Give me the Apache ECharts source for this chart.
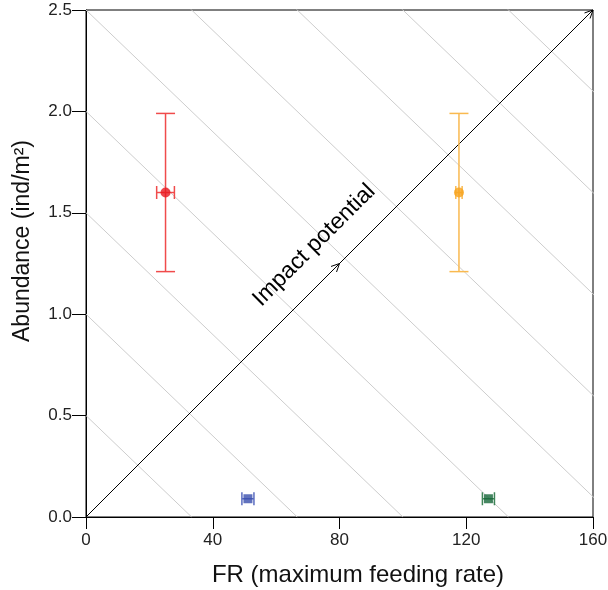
<!DOCTYPE html>
<html><head><meta charset="utf-8">
<script src="https://cdn.jsdelivr.net/npm/echarts@6/dist/echarts.min.js"></script>
<style>html,body{margin:0;padding:0;background:#fff}#c{width:608px;height:590px}</style>
</head><body><div id="c"></div>
<script>
const frMean = [25.1, 117.7, 51.1, 127.0];
const frErr = [2.8, 1.0, 1.9, 1.9];
const abMean = [1.60, 1.60, 0.09, 0.09];
const abErr = [0.39, 0.39, 0, 0];
const dotColors = ['#e8181f', '#f7a31c', '#3a4fae', '#17683a'];
const barColors = ['#f04b4b', '#f9b94f', '#5a6cc0', '#3f8558'];
const markerShapes = ['circle', 'circle', 'square', 'square'];
const xTicks = [0, 40, 80, 120, 160];
const yTicks = [0.0, 0.5, 1.0, 1.5, 2.0, 2.5];
const isoIntercepts = [0.5, 1.0, 1.5, 2.0, 2.5, 3.0, 3.5, 4.0, 4.5];
const isoSlope = -0.015;
const diagLine = [[0, 0], [160, 2.5]];
const arrowAt = [[80, 1.25], [160, 2.5]];
const annotation = {text: 'Impact potential', x: 72.0, y: 1.34};

const FONT = '"Liberation Sans", Arial, sans-serif';
const chart = echarts.init(document.getElementById('c'), null, {renderer: 'canvas'});

const series = [];
isoIntercepts.forEach(c => {
  series.push({
    type: 'line', silent: true, symbol: 'none', clip: true, z: 1,
    lineStyle: {color: '#cdcdcd', width: 1},
    data: [[0, c], [c / -isoSlope, 0]]
  });
});
series.push({
  type: 'line', silent: true, symbol: 'none', z: 2,
  lineStyle: {color: '#000', width: 1},
  data: diagLine
});
series.push({
  type: 'custom', silent: true, z: 3, clip: false,
  data: arrowAt,
  renderItem: function (params, api) {
    const p = api.coord([api.value(0), api.value(1)]);
    const a = api.coord(diagLine[0]), b = api.coord(diagLine[1]);
    const ang = Math.atan2(b[1] - a[1], b[0] - a[0]);
    const L = 9, s = 0.45;
    const p1 = [p[0] - L * Math.cos(ang - s), p[1] - L * Math.sin(ang - s)];
    const p2 = [p[0] - L * Math.cos(ang + s), p[1] - L * Math.sin(ang + s)];
    return {type: 'polyline', shape: {points: [p1, p, p2]}, style: {stroke: '#000', lineWidth: 1, fill: null}};
  }
});
series.push({
  type: 'custom', silent: true, z: 3, clip: false,
  data: [[annotation.x, annotation.y]],
  renderItem: function (params, api) {
    const p = api.coord([api.value(0), api.value(1)]);
    return {type: 'text', x: p[0], y: p[1], rotation: Math.PI / 4,
      style: {text: annotation.text, fontSize: 23, fontFamily: FONT, fill: '#000', align: 'center', verticalAlign: 'middle'}};
  }
});
// error bars
series.push({
  type: 'custom', silent: true, z: 4, clip: false,
  data: frMean.map((x, i) => [x, abMean[i], frErr[i], abErr[i], i]),
  renderItem: function (params, api) {
    const x = api.value(0), y = api.value(1), xe = api.value(2), ye = api.value(3), i = api.value(4);
    const col = barColors[i];
    const st = {stroke: col, lineWidth: 1.5};
    const ch = [];
    const c = api.coord([x, y]);
    if (ye > 0) {
      const t = api.coord([x, y + ye]), b = api.coord([x, y - ye]);
      ch.push({type: 'line', shape: {x1: c[0], y1: t[1], x2: c[0], y2: b[1]}, style: st});
      ch.push({type: 'line', shape: {x1: c[0] - 9.5, y1: t[1], x2: c[0] + 9.5, y2: t[1]}, style: st});
      ch.push({type: 'line', shape: {x1: c[0] - 9.5, y1: b[1], x2: c[0] + 9.5, y2: b[1]}, style: st});
    }
    if (xe > 0) {
      const l = api.coord([x - xe, y]), r = api.coord([x + xe, y]);
      ch.push({type: 'line', shape: {x1: l[0], y1: c[1], x2: r[0], y2: c[1]}, style: st});
      ch.push({type: 'line', shape: {x1: l[0], y1: c[1] - 6.5, x2: l[0], y2: c[1] + 6.5}, style: st});
      ch.push({type: 'line', shape: {x1: r[0], y1: c[1] - 6.5, x2: r[0], y2: c[1] + 6.5}, style: st});
    }
    return {type: 'group', children: ch};
  }
});
series.push({
  type: 'scatter', silent: true, z: 5,
  data: frMean.map((x, i) => ({
    value: [x, abMean[i]], symbol: markerShapes[i],
    symbolSize: markerShapes[i] === 'circle' ? 10 : 9,
    itemStyle: {color: dotColors[i]}
  }))
});

chart.setOption({
  animation: false,
  backgroundColor: '#fff',
  grid: {left: 86, right: 15, top: 10, bottom: 73, show: true, borderColor: '#000', borderWidth: 1, outerBoundsMode: 'none'},
  xAxis: {
    type: 'value', min: xTicks[0], max: xTicks[xTicks.length - 1], interval: xTicks[1] - xTicks[0],
    axisLine: {show: true, onZero: false, lineStyle: {color: '#000', width: 1}},
    axisTick: {show: true, length: 12, inside: false, lineStyle: {color: '#000', width: 1}},
    axisLabel: {margin: 15, fontSize: 17, fontFamily: FONT, color: '#222'},
    splitLine: {show: false}
  },
  yAxis: {
    type: 'value', min: yTicks[0], max: yTicks[yTicks.length - 1], interval: yTicks[1] - yTicks[0],
    axisLine: {show: true, onZero: false, lineStyle: {color: '#000', width: 1}},
    axisTick: {show: true, length: 14, inside: false, lineStyle: {color: '#000', width: 1}},
    axisLabel: {margin: 14, fontSize: 17, fontFamily: FONT, color: '#222', padding: [6, 0, 0, 0], formatter: v => v.toFixed(1)},
    splitLine: {show: false}
  },
  graphic: [
    {type: 'text', x: 358, y: 575, style: {text: 'FR (maximum feeding rate)', fontSize: 24, fontFamily: FONT, fill: '#111', align: 'center', verticalAlign: 'middle'}},
    {type: 'text', x: 23, y: 241, rotation: Math.PI / 2, style: {text: 'Abundance (ind/m²)', fontSize: 23, fontFamily: FONT, fill: '#111', align: 'center', verticalAlign: 'middle'}}
  ],
  series: series
});
</script></body></html>
